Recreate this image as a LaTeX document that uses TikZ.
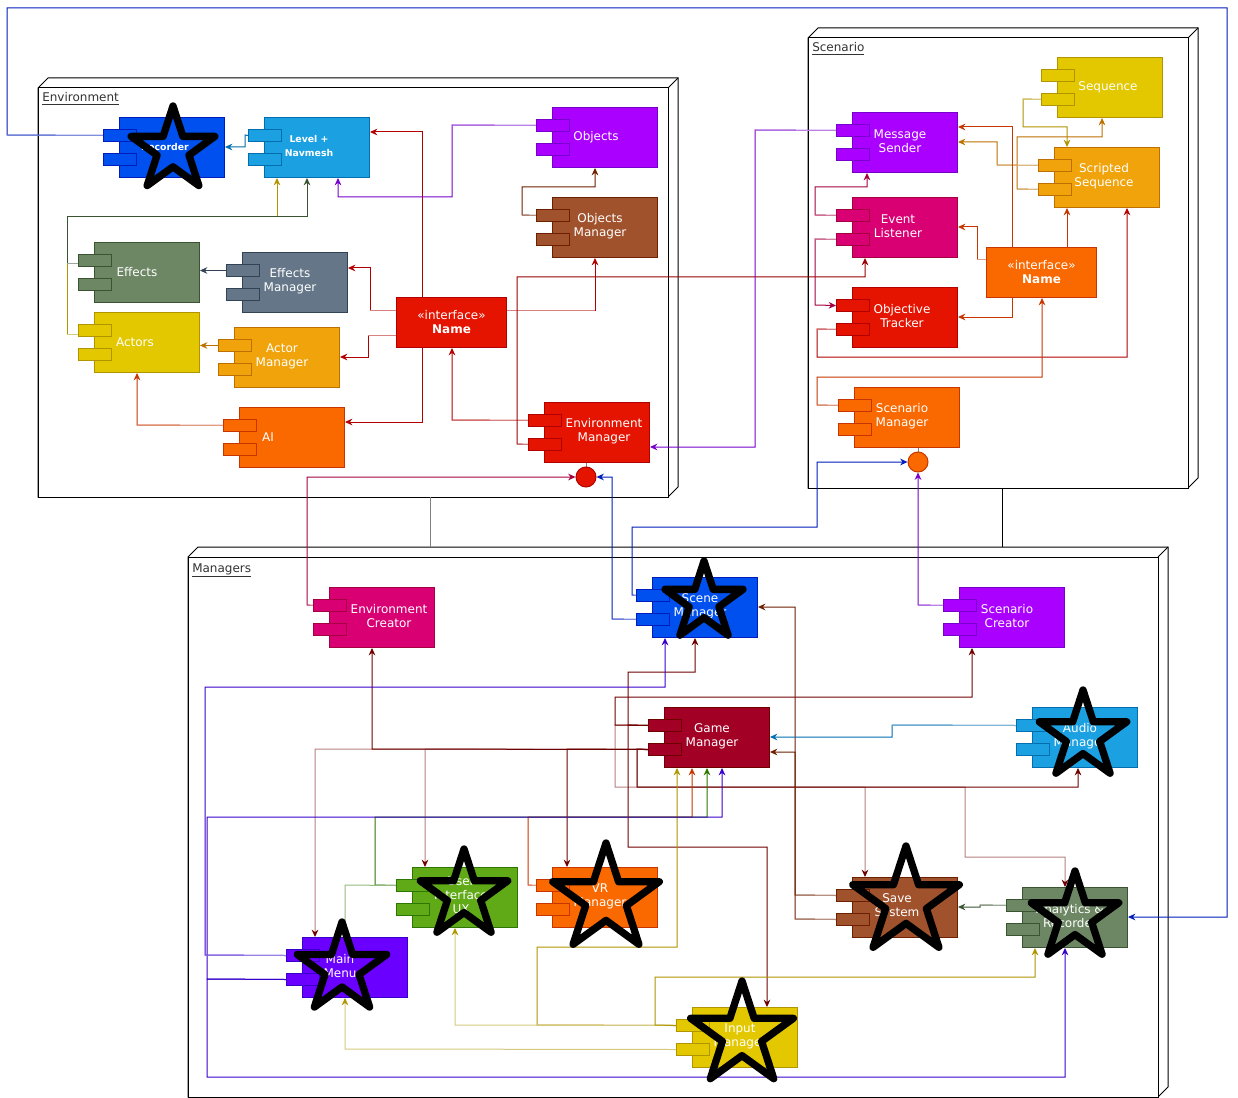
\documentclass[tikz,border=0pt]{standalone}
\usepackage{fontspec}
\setmainfont{DejaVu Sans}
\usetikzlibrary{arrows.meta,calc}
\pgfdeclarelayer{bg}\pgfdeclarelayer{edges}\pgfsetlayers{bg,edges,main}
\definecolor{blueF}{HTML}{0050EF}\definecolor{blueD}{HTML}{001DBC}
\definecolor{cyanF}{HTML}{1BA1E2}\definecolor{cyanD}{HTML}{006EAF}
\definecolor{violF}{HTML}{AA00FF}\definecolor{violD}{HTML}{7700CC}
\definecolor{brownF}{HTML}{A0522D}\definecolor{brownD}{HTML}{6D1F00}
\definecolor{redF}{HTML}{E51400}\definecolor{redD}{HTML}{B20000}
\definecolor{oliveF}{HTML}{6D8764}\definecolor{oliveD}{HTML}{3A5431}
\definecolor{slateF}{HTML}{647687}\definecolor{slateD}{HTML}{314354}
\definecolor{yellowF}{HTML}{E3C800}\definecolor{yellowD}{HTML}{B09500}
\definecolor{amberF}{HTML}{F0A30A}\definecolor{amberD}{HTML}{BD7000}
\definecolor{orangeF}{HTML}{FA6800}\definecolor{orangeD}{HTML}{C73500}
\definecolor{magF}{HTML}{D80073}\definecolor{magD}{HTML}{A50040}
\definecolor{crimsonF}{HTML}{A20025}\definecolor{crimsonD}{HTML}{6F0000}
\definecolor{greenF}{HTML}{60A917}\definecolor{greenD}{HTML}{2D7600}
\definecolor{indigoF}{HTML}{6A00FF}\definecolor{indigoD}{HTML}{3700CC}
\definecolor{darkred}{HTML}{990000}
\tikzset{
 comp/.style={rectangle,minimum width=78.75pt,minimum height=45pt,inner sep=0pt,line width=0.75pt,anchor=north west},
 port/.style={rectangle,minimum width=24.75pt,minimum height=9pt,inner sep=0pt,line width=0.75pt,anchor=north west},
 iface/.style={rectangle,minimum width=82.5pt,minimum height=37.5pt,inner sep=0pt,line width=0.75pt,anchor=north west,text=white,align=center,font=\fontsize{9}{10.5}\selectfont},
 ctext/.style={text=white,font=\fontsize{9}{10.5}\selectfont,align=center,inner sep=0pt},
 stext/.style={text=white,font=\fontsize{7}{10.5}\selectfont\bfseries,align=center,inner sep=0pt},
 ed/.style={line width=0.75pt,-{Stealth[length=5.5pt,width=5pt,inset=1.8pt]}},
 ln/.style={line width=0.75pt},
 frame/.style={line width=0.75pt,draw=black,fill=white},
 starln/.style={line width=5.5pt,draw=black,line join=round},
 flabel/.style={font=\fontsize{9}{10.5}\selectfont,text=black!80,inner sep=0pt,anchor=base west},
 lolly/.style={circle,minimum size=15pt,inner sep=0pt,line width=0.75pt},
}
% component: [style]{name}{x}{y}{fill}{draw}{tx}{ty}{text}
\newcommand\comp[9][ctext]{%
 \node[comp,fill=#5,draw=#6] (#2) at (#3,#4) {};
 \node[port,fill=#5,draw=#6] (#2-p1) at ({#3-16},{#4+12}) {};
 \node[port,fill=#5,draw=#6] (#2-p2) at ({#3-16},{#4+36}) {};
 \node[#1] (#2-t) at (#7,#8) {#9};}
\newcommand\cn[3]{\draw[ed,draw=#1] #2 #3; \draw[ln,draw=#1!50!white] #2;}
\newcommand\cnd[2]{\draw[ed,draw=#1] #2;}
\newcommand\cnl[2]{\draw[line width=0.75pt,draw=#1!50!white,-{Stealth[length=5.5pt,width=5pt,inset=1.8pt,color=#1]}] #2;}
\newcommand\frm[4]{%
 \filldraw[frame] (#1,#2) -- ({#1+10},{#2-10}) -- ({#3+10},{#2-10}) -- ({#3+10},{#4-10}) -- (#3,#4) -- (#1,#4) -- cycle;
 \draw[frame] (#1,#2) rectangle (#3,#4);
 \draw[frame] (#3,#2) -- ({#3+10},{#2-10});}
\newcommand\bstar[3]{\draw[starln] (#1,{#2-#3}) \foreach \k in {1,...,9}{ -- ({#1+#3*(1-0.618*mod(\k,2))*cos(270+36*\k)},{#2+#3*(1-0.618*mod(\k,2))*sin(270+36*\k)}) } -- cycle;}
\begin{document}
\begin{tikzpicture}[x=0.75pt,y=-0.75pt]
\useasboundingbox (0,0) rectangle (1238,1098);
\begin{pgfonlayer}{bg}
\fill[white] (0,0) rectangle (1238,1098);
\frm{38}{88}{668}{497}
\frm{808}{38}{1188}{488}
\frm{188}{557}{1158}{1097}
\end{pgfonlayer}
\node[flabel] (lenv) at (42,102) {\underline{Environment}};
\node[flabel] (lscn) at (812,52) {\underline{Scenario}};
\node[flabel] (lmgr) at (192,572) {\underline{Managers}};
\coordinate (envBot) at (430,497); \coordinate (mgTopA) at (430,547);
\coordinate (scnBot) at (1002,488); \coordinate (mgTopB) at (1002,547);

% Environment nodes
\comp[stext]{rec}{119}{117}{blueF}{blueD}{165}{147}{Recorder}
\comp[stext]{lvl}{264}{117}{cyanF}{cyanD}{309}{146}{Level +\\Navmesh}
\comp{obj}{552}{107}{violF}{violD}{596}{137}{Objects}
\comp{obm}{552}{197}{brownF}{brownD}{600}{226}{Objects\\Manager}
\comp{eff}{94}{242}{oliveF}{oliveD}{137}{272}{Effects}
\comp{efm}{242}{252}{slateF}{slateD}{290}{281}{Effects\\Manager}
\comp{act}{94}{312}{yellowF}{yellowD}{135}{342}{Actors}
\comp{acm}{234}{327}{amberF}{amberD}{282}{356}{Actor\\Manager}
\comp{ai}{239}{407}{orangeF}{orangeD}{268}{437}{AI}
\comp{em}{544}{402}{redF}{redD}{604}{431}{Environment\\Manager}
\node[iface,fill=redF,draw=redD] (ienv) at (396,297) {«interface»\\\textbf{Name}};
\node[lolly,fill=redF,draw=redD] (envc) at (586,477) {};
% Scenario nodes
\comp{seq}{1057}{57}{yellowF}{yellowD}{1108}{87}{Sequence}
\comp{ms}{852}{112}{violF}{violD}{900}{141}{Message\\Sender}
\comp{scr}{1054}{147}{amberF}{amberD}{1104}{176}{Scripted\\Sequence}
\comp{el}{852}{197}{magF}{magD}{898}{226}{Event\\Listener}
\node[iface,fill=orangeF,draw=orangeD] (isc) at (986,247) {«interface»\\\textbf{Name}};
\comp{ot}{852}{287}{redF}{redD}{902}{316}{Objective\\Tracker}
\comp{scm}{854}{387}{orangeF}{orangeD}{902}{416}{Scenario\\Manager}
\node[lolly,fill=orangeF,draw=orangeD] (scnc) at (918,462) {};
% Managers nodes
\comp{ec}{329}{587}{magF}{magD}{389}{616}{Environment\\Creator}
\comp{sm}{652}{577}{blueF}{blueD}{700}{606}{Scene\\Manager}
\comp{scc}{959}{587}{violF}{violD}{1007}{616}{Scenario\\Creator}
\comp{gm}{664}{707}{crimsonF}{crimsonD}{712}{736}{Game\\Manager}
\comp{am}{1032}{707}{cyanF}{cyanD}{1080}{736}{Audio\\Manager}
\comp{ui}{412}{867}{greenF}{greenD}{461}{895}{User\\Interface\\UX}
\comp{vr}{552}{867}{orangeF}{orangeD}{600}{896}{VR\\Manager}
\comp{mm}{302}{937}{indigoF}{indigoD}{340}{966}{Main\\Menu}
\comp{im}{692}{1007}{yellowF}{yellowD}{740}{1036}{Input\\Manager}
\comp{ss}{852}{877}{brownF}{brownD}{897}{906}{Save\\System}
\comp{ar}{1022}{887}{oliveF}{oliveD}{1070}{916}{Analytics \&\\Recorder}

\begin{pgfonlayer}{edges}
\draw[gray,line width=0.75pt] (envBot) -- (mgTopA);
\draw[black,line width=0.75pt] (scnBot) -- (mgTopB);
\draw[gray,line width=0.75pt] (em.south -| envc) -- (envc.north);
\draw[gray,line width=0.75pt] (scm.south -| scnc) -- (scnc.north);
% Environment edges
\cnd{cyanD}{(lvl-p1.west) -- (245,135) -- (245,147) -- (rec.east |- 0,147)}
\cnd{redD}{(ienv.north -| 422,0) -- (422,132) -- (lvl.east |- 0,132)}
\cnd{redD}{(ienv.south -| 422,0) -- (422,422) -- (ai.east |- 0,422)}
\cn{redD}{(ienv.west |- 0,310) -- (370,310)}{-- (370,268) -- (efm.east |- 0,268)}
\cn{redD}{(ienv.west |- 0,335) -- (368,335)}{-- (368,357) -- (acm.east |- 0,357)}
\cn{redD}{(ienv.east |- 0,310) -- (595,310)}{-- (obm.south -| 595,0)}
\cn{redD}{(em-p1.west) -- (452,420)}{-- (ienv.south -| 452,0)}
\cn{darkred}{(em-p2.west) -- (517,444)}{-- (517,277) -- (865,277) -- (el.south -| 865,0)}
\cn{brownD}{(obm-p1.west) -- (522,215)}{-- (522,187) -- (595,187) -- (obj.south -| 595,0)}
\cn{violD}{(obj-p1.west) -- (452,125)}{-- (452,197) -- (338,197) -- (lvl.south -| 338,0)}
\cn{yellowD}{(act-p1.west |- 0,334) -- (67,334)}{-- (67,217) -- (277,217) -- (lvl.south -| 277,0)}
\cn{oliveD}{(eff-p1.west |- 0,264) -- (67,264)}{-- (67,217) -- (307,217) -- (lvl.south -| 307,0)}
\cnd{slateD}{(efm-p1.west) -- (eff.east |- efm-p1.west)}
\cnd{amberD}{(acm-p1.west) -- (act.east |- acm-p1.west)}
\cn{orangeD}{(ai-p1.west) -- (137,425)}{-- (act.south -| 137,0)}
\cn{blueD}{(rec-p1.west) -- (7,135)}{-- (7,8) -- (1227,8) -- (1227,917) -- (ar.east |- 0,917)}
% Scenario edges
\cn{violD}{(ms-p1.west) -- (755,130)}{-- (755,447) -- (em.east |- 0,447)}
\cn{yellowD}{(seq-p2.west) -- (1023,99)}{-- (1023,127) -- (1067,127) -- (scr.north -| 1067,0)}
\cn{amberD}{(scr-p2.west) -- (1017,189)}{-- (1017,137) -- (1102,137) -- (seq.south -| 1102,0)}
\cn{amberD}{(scr-p1.west) -- (997,165)}{-- (997,142) -- (ms.east |- 0,142)}
\cnd{orangeD}{(isc.north -| 1012,0) -- (1012,127) -- (ms.east |- 0,127)}
\cnd{orangeD}{(isc.south -| 1012,0) -- (1012,317) -- (ot.east |- 0,317)}
\cn{orangeD}{(isc.west |- 0,260) -- (977,260)}{-- (977,227) -- (el.east |- 0,227)}
\cnd{orangeD}{(isc.north -| 1067,0) -- (scr.south -| 1067,0)}
\cn{magD}{(el-p1.west) -- (815,215)}{-- (815,187) -- (867,187) -- (ms.south -| 867,0)}
\cn{magD}{(el-p2.west) -- (815,239)}{-- (815,305) -- (ot-p1.west)}
\cn{redD}{(ot-p2.west) -- (817,329)}{-- (817,357) -- (1127,357) -- (scr.south -| 1127,0)}
\cn{orangeD}{(scm-p1.west) -- (817,405)}{-- (817,377) -- (1042,377) -- (isc.south -| 1042,0)}
% cross-frame edges
\cn{magD}{(ec-p1.west) -- (307,605)}{-- (307,477) -- (envc.west)}
\cn{blueD}{(sm-p2.west) -- (612,619)}{-- (612,477) -- (envc.east)}
\cn{blueD}{(sm-p1.west) -- (632,595)}{-- (632,527) -- (817,527) -- (817,462) -- (scnc.west)}
\cn{violD}{(scc-p1.west) -- (918,605)}{-- (scnc.south)}
% Managers edges
\cnl{crimsonD}{(gm-p2.west) -- (315,749) -- (mm.north -| 315,0)}
\cnl{crimsonD}{(gm-p2.west) -- (425,749) -- (ui.north -| 425,0)}
\cnl{crimsonD}{(gm-p1.west) -- (615,725) -- (615,787) -- (865,787) -- (ss.north -| 865,0)}
\cnl{crimsonD}{(gm-p2.west) -- (637,749) -- (637,787) -- (965,787) -- (965,857) -- (1065,857) -- (ar.north -| 1065,0)}
\cnd{crimsonD}{(gm-p2.west) -- (372,749) -- (ec.south -| 372,0)}
\cnd{crimsonD}{(gm-p2.west) -- (567,749) -- (vr.north -| 567,0)}
\cnd{crimsonD}{(gm-p1.west) -- (628,725) -- (628,672) -- (695,672) -- (sm.south -| 695,0)}
\cnd{crimsonD}{(gm-p1.west) -- (615,725) -- (615,697) -- (972,697) -- (scc.south -| 972,0)}
\cnd{crimsonD}{(gm-p2.west) -- (637,749) -- (637,787) -- (1078,787) -- (am.south -| 1078,0)}
\cnd{crimsonD}{(gm-p1.west) -- (628,725) -- (628,847) -- (767,847) -- (im.north -| 767,0)}
\cn{brownD}{(ss-p1.west) -- (795,895)}{-- (795,607) -- (sm.east |- 0,607)}
\cn{brownD}{(ss-p2.west) -- (795,919)}{-- (795,752) -- (gm.east |- 0,752)}
\cn{cyanD}{(am-p1.west) -- (892,725)}{-- (892,737) -- (gm.east |- 0,737)}
\cn{oliveD}{(ar-p1.west) -- (980,905)}{-- (980,907) -- (ss.east |- 0,907)}
\cn{yellowD}{(im-p1.west) -- (537,1025)}{-- (537,947) -- (677,947) -- (gm.south -| 677,0)}
\cn{orangeD}{(vr-p1.west) -- (528,885)}{-- (528,817) -- (692,817) -- (gm.south -| 692,0)}
\cn{greenD}{(ui-p1.west) -- (375,885)}{-- (375,817) -- (707,817) -- (gm.south -| 707,0)}
\cnd{indigoD}{(mm-p2.west) -- (207,979) -- (207,817) -- (722,817) -- (gm.south -| 722,0)}
\cnd{indigoD}{(mm-p2.west) -- (207,979) -- (207,1077) -- (1065,1077) -- (ar.south -| 1065,0)}
\cn{indigoD}{(mm-p1.west) -- (205,955)}{-- (205,687) -- (665,687) -- (sm.south -| 665,0)}
\cnl{greenD}{(ui-p1.west) -- (345,885) -- (mm.north -| 345,0)}
\cnl{yellowD}{(im-p2.west) -- (345,1049) -- (mm.south -| 345,0)}
\cnl{yellowD}{(im-p1.west) -- (455,1025) -- (ui.south -| 455,0)}
\cnd{yellowD}{(im-p1.west) -- (655,1025) -- (655,977) -- (1035,977) -- (ar.south -| 1035,0)}
\end{pgfonlayer}

% stars
\bstar{173}{150}{44}
\bstar{704}{602}{41}
\bstar{1083}{736}{46}
\bstar{1075}{917}{46}
\bstar{906}{902}{56}
\bstar{606}{899}{56}
\bstar{742}{1035}{54}
\bstar{464}{895}{46}
\bstar{342}{969}{47}
\end{tikzpicture}
\end{document}
